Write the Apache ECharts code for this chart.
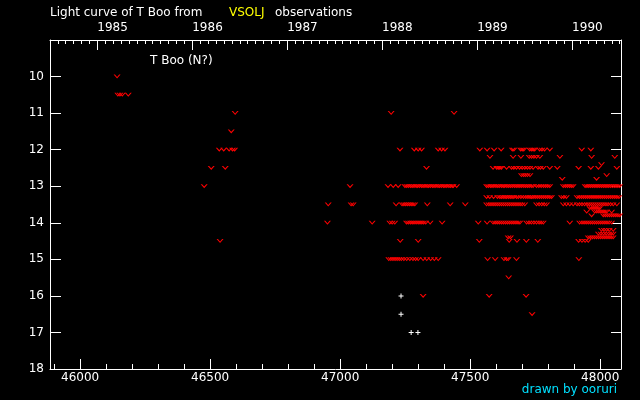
<!DOCTYPE html>
<html><head><meta charset="utf-8">
<script src="https://cdn.jsdelivr.net/npm/echarts@6/dist/echarts.min.js"></script>
<style>html,body{margin:0;padding:0;background:#000}#c{width:640px;height:400px}</style>
</head><body><div id="c"></div>
<script>
// Magnitude rows and the days (JD - 2400000) observed at each row ("v" marks)
const magRows = [10.0, 10.5, 11.0, 11.5, 12.0, 12.2, 12.4, 12.5, 12.7, 12.8, 13.0, 13.3, 13.5, 13.6, 13.7, 13.8, 14.0, 14.2, 14.3, 14.4, 14.5, 15.0, 15.5, 16.0, 16.5];
const dayRows = [
  [46142],
  [46145, 46153, 46162, 46185],
  [46596, 47196, 47438],
  [46581],
  [46535, 46552, 46573, 46586, 46594, 47230, 47285, 47300, 47313, 47377, 47390, 47403, 47537, 47565, 47592, 47619, 47662, 47668, 47694, 47700, 47706, 47729, 47736, 47742, 47748, 47767, 47776, 47786, 47806, 47929, 47964],
  [47576, 47665, 47695, 47727, 47736, 47745, 47755, 47768, 47845, 47967, 48056],
  [48005],
  [46504, 46558, 47332, 47588, 47602, 47608, 47614, 47620, 47640, 47659, 47668, 47678, 47690, 47700, 47710, 47720, 47730, 47742, 47761, 47770, 47781, 47806, 47835, 47917, 47964, 47993, 48064],
  [47697, 47705, 47712, 47720, 47730, 48025],
  [47854, 47986],
  [46477, 47038, 47184, 47204, 47223, 47249, 47256, 47263, 47271, 47277, 47284, 47292, 47298, 47305, 47313, 47319, 47326, 47334, 47340, 47347, 47355, 47361, 47368, 47376, 47382, 47389, 47397, 47403, 47410, 47418, 47424, 47431, 47435, 47448,
   47563, 47570, 47578, 47584, 47591, 47599, 47606, 47612, 47620, 47627, 47633, 47641, 47648, 47655, 47662, 47670, 47677, 47684, 47691, 47698, 47706, 47713, 47720, 47727, 47735, 47742, 47755, 47764, 47773, 47782, 47790, 47798, 47806, 47858, 47866, 47874, 47882, 47889, 47896,
   47942, 47949, 47956, 47963, 47970, 47977, 47984, 47991, 47998, 48005, 48012, 48019, 48026, 48033, 48040, 48047, 48054, 48061, 48068, 48075],
  [47563, 47575, 47590, 47605, 47614, 47620, 47627, 47634, 47640, 47647, 47654, 47661, 47668, 47678, 47685, 47695, 47705, 47714, 47722, 47730, 47736, 47742, 47750, 47758, 47766, 47774, 47782, 47790, 47798, 47806, 47813, 47851, 47860, 47870,
   47911, 47920, 47928, 47936, 47944, 47952, 47960, 47968, 47976, 47984, 47992, 48000, 48008, 48016, 48024, 48032, 48040, 48048, 48056, 48064, 48072],
  [46954, 47042, 47050, 47215, 47238, 47245, 47252, 47259, 47266, 47273, 47280, 47287, 47335, 47423, 47481,
   47563, 47572, 47580, 47588, 47596, 47604, 47612, 47620, 47628, 47636, 47644, 47652, 47660, 47668, 47676, 47684, 47692, 47700, 47710, 47755, 47765, 47775, 47785, 47794, 47858, 47870, 47883, 47896,
   47911, 47920, 47930, 47940, 47950, 47958, 47966, 47974, 47982, 47990, 47998, 48006, 48014, 48022, 48030, 48040, 48050, 48064],
  [47960, 47968, 47976, 47984, 47992, 47998],
  [47948, 47979, 47987, 47995, 48003, 48011, 48018, 48025, 48044],
  [47967, 48012, 48020, 48028, 48036, 48044, 48052, 48060, 48068, 48075],
  [46951, 47123, 47191, 47200, 47210, 47255, 47262, 47270, 47277, 47284, 47292, 47300, 47307, 47314, 47321, 47329, 47346, 47392,
   47531, 47565, 47588, 47596, 47604, 47612, 47620, 47628, 47636, 47644, 47652, 47660, 47668, 47676, 47684, 47691, 47717, 47726, 47735, 47745, 47755, 47765, 47773, 47781, 47883,
   47921, 47930, 47938, 47946, 47954, 47962, 47970, 47978, 47986, 47994, 48002, 48010, 48018, 48026, 48034, 48044],
  [48005, 48015, 48025, 48035, 48050],
  [47993, 48003, 48013, 48023, 48033, 48042, 48050],
  [47646, 47655, 47954, 47962, 47970, 47978, 47986, 47994, 48002, 48010, 48018, 48026, 48034, 48042, 48050],
  [46538, 47231, 47300, 47535, 47650, 47680, 47716, 47760, 47917, 47930, 47942, 47954],
  [47187, 47195, 47203, 47211, 47219, 47227, 47235, 47245, 47256, 47268, 47280, 47290, 47300, 47319, 47333, 47348, 47362, 47377, 47567, 47596, 47630, 47640, 47646, 47678, 47918],
  [47648],
  [47319, 47573, 47715],
  [47738]
];
// White "+" marks
const crossDays = [47234, 47234, 47273, 47299];
const crossMags = [16.0, 16.5, 17.0, 17.0];

// Axis ticks / labels
const bottomTicks = [46000, 46500, 47000, 47500, 48000];
const bottomMinor = [45900, 46100, 46200, 46300, 46400, 46600, 46700, 46800, 46900, 47100, 47200, 47300, 47400, 47600, 47700, 47800, 47900];
const yearTicks = [46066, 46431, 46796, 47161, 47527, 47892];
const yearLabels = ['1985', '1986', '1987', '1988', '1989', '1990'];
const magTicks = [10, 11, 12, 13, 14, 15, 16, 17, 18];

const X_MIN = 45884, X_MAX = 48080;
const FONT = 'DejaVu Sans';

const monthTicks = [];
for (let y = 1984; y <= 1990; y++) {
  const y0 = 46066 + (y - 1985) * 365.25;
  for (let k = 1; k < 12; k++) {
    const v = y0 + k * 365.25 / 12;
    if (v > X_MIN + 2 && v < X_MAX - 2) monthTicks.push(v);
  }
}

const vData = [];
magRows.forEach((m, i) => dayRows[i].forEach(d => vData.push([d, m])));
const crossData = crossDays.map((d, i) => [d, crossMags[i]]);

const gridRect = {left: 50, top: 40, width: 571, height: 329};
const W = '#ffffff';

function baseX(grid, pos, ticks, len, showLine) {
  return {
    gridIndex: grid, type: 'value', position: pos, min: X_MIN, max: X_MAX,
    axisLine: {show: showLine, lineStyle: {color: W, width: 1}},
    axisTick: {show: true, inside: true, length: len, customValues: ticks, lineStyle: {color: W, width: 1}},
    axisLabel: {show: false},
    splitLine: {show: false}
  };
}
function hiddenY(grid) {
  return {gridIndex: grid, type: 'value', min: 9, max: 18, inverse: true, show: false, splitLine: {show: false}};
}

const xBottom = baseX(0, 'bottom', bottomTicks, 10, true);
xBottom.axisLabel = {show: true, customValues: bottomTicks, color: W, fontFamily: FONT, fontSize: 12, margin: 3,
  formatter: v => String(Math.round(v))};
const xTop = baseX(2, 'top', yearTicks, 10, true);
xTop.axisLabel = {show: true, customValues: yearTicks, color: W, fontFamily: FONT, fontSize: 12, margin: 6, align: 'left',
  formatter: v => yearLabels[yearTicks.indexOf(v)] || ''};

const option = {
  backgroundColor: '#000',
  animation: false,
  grid: [0, 1, 2, 3].map(() => Object.assign({containLabel: false}, gridRect)),
  xAxis: [xBottom, baseX(1, 'bottom', bottomMinor, 5, false), xTop, baseX(3, 'top', monthTicks, 4, false)],
  yAxis: [
    {gridIndex: 0, type: 'value', position: 'left', min: 9, max: 18, interval: 1, inverse: true,
     axisLine: {show: true, lineStyle: {color: W, width: 1}},
     axisTick: {show: true, inside: true, length: 11, customValues: magTicks, lineStyle: {color: W, width: 1}},
     axisLabel: {show: true, customValues: magTicks, color: W, fontFamily: FONT, fontSize: 12, margin: 6},
     splitLine: {show: false}},
    {gridIndex: 0, type: 'value', position: 'right', min: 9, max: 18, interval: 1, inverse: true,
     axisLine: {show: true, lineStyle: {color: W, width: 1}},
     axisTick: {show: true, inside: true, length: 10, customValues: magTicks, lineStyle: {color: W, width: 1}},
     axisLabel: {show: false},
     splitLine: {show: false}},
    hiddenY(1), hiddenY(2), hiddenY(3)
  ],
  series: [
    {type: 'scatter', xAxisIndex: 0, yAxisIndex: 0, data: vData, silent: true,
     symbol: 'path://M0,0 L1.4,0 L3.5,2.4 L5.6,0 L7,0 L3.5,4 Z', symbolSize: [7, 4],
     itemStyle: {color: '#ff0000', opacity: 1}},
    {type: 'scatter', xAxisIndex: 0, yAxisIndex: 0, data: crossData, silent: true,
     symbol: 'path://M2,0 L3,0 L3,2 L5,2 L5,3 L3,3 L3,5 L2,5 L2,3 L0,3 L0,2 L2,2 Z', symbolSize: 5,
     itemStyle: {color: '#ffffff', opacity: 1}}
  ],
  graphic: [
    {type: 'text', x: 50, y: 13, style: {text: 'Light curve of T Boo from', fill: W, font: '12px ' + FONT, verticalAlign: 'middle', align: 'left'}},
    {type: 'text', x: 229, y: 13, style: {text: 'VSOLJ', fill: '#ffff00', font: '12px ' + FONT, verticalAlign: 'middle', align: 'left'}},
    {type: 'text', x: 275, y: 13, style: {text: 'observations', fill: W, font: '12px ' + FONT, verticalAlign: 'middle', align: 'left'}},
    {type: 'text', x: 150, y: 61, style: {text: 'T Boo (N?)', fill: W, font: '12px ' + FONT, verticalAlign: 'middle', align: 'left'}},
    {type: 'text', x: 617, y: 390, style: {text: 'drawn by ooruri', fill: '#00e0ff', font: '12px ' + FONT, verticalAlign: 'middle', align: 'right'}}
  ]
};
echarts.init(document.getElementById('c'), null, {renderer: 'canvas'}).setOption(option);
</script></body></html>
